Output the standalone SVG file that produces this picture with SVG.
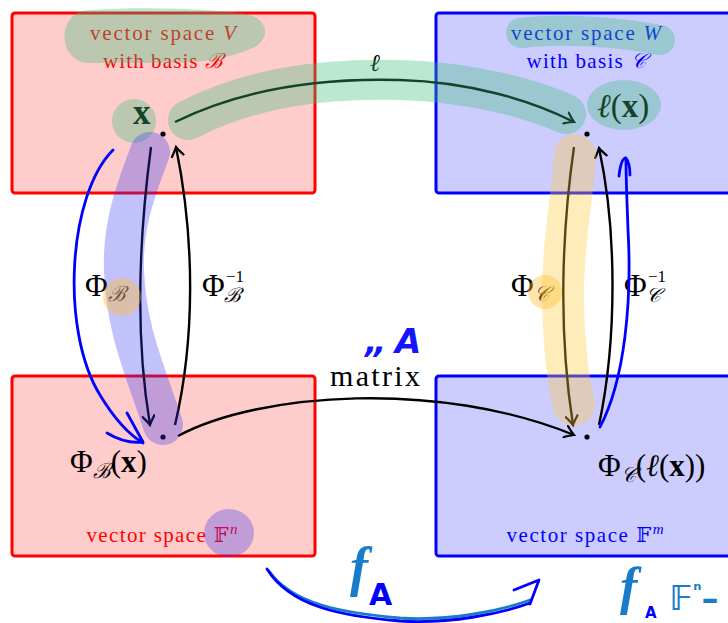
<svg xmlns="http://www.w3.org/2000/svg" width="728" height="623" viewBox="0 0 728 623">
<defs>
<style>
.rbox{fill:#ffcccc;stroke:#ff0000;stroke-width:3}
.bbox{fill:#ccccff;stroke:#0000ff;stroke-width:3}
.sm{font-family:"Liberation Serif","DejaVu Serif",serif;font-size:21px}
.math{font-family:"Liberation Serif","DejaVu Serif",serif;font-size:31px;fill:#000}
.red{fill:#ff0000}
.blue{fill:#0000ff}
.arr{fill:none;stroke:#000;stroke-width:2.4;marker-end:url(#ah)}
.hg{fill:none;stroke:rgb(60,190,120);stroke-opacity:0.35;stroke-linecap:round}
.hgf{fill:rgb(60,190,120);fill-opacity:0.35}
.hb{fill:none;stroke:rgb(50,50,245);stroke-opacity:0.3;stroke-linecap:round}
.hbf{fill:rgb(50,50,245);fill-opacity:0.3}
.hy{fill:none;stroke:rgb(255,200,60);stroke-opacity:0.35;stroke-linecap:round}
.hof{fill:rgb(255,190,50);fill-opacity:0.4}
.pen{fill:none;stroke-width:2.8;stroke-linecap:round;stroke-linejoin:round}
.hand{font-family:"DejaVu Sans",sans-serif;font-weight:bold}
.handf{font-family:"Liberation Serif",serif;font-style:italic;font-weight:bold;fill:#1a7cc8}
</style>
<marker id="ah" viewBox="-10 -7 12 14" refX="0" refY="0" markerWidth="12" markerHeight="14" orient="auto" markerUnits="userSpaceOnUse">
<path d="M-9,-6 Q-3,-1.5 0,0 Q-3,1.5 -9,6" fill="none" stroke="#000" stroke-width="2.2" stroke-linecap="round"/>
</marker>
</defs>

<g id="space-V">
<rect class="rbox" x="12" y="13" width="303" height="180" rx="3"/>
<text class="sm red" x="163" y="40" text-anchor="middle" textLength="146">vector space <tspan font-style="italic">V</tspan></text>
<text class="sm red" x="163" y="68" text-anchor="middle" textLength="120">with basis <tspan font-style="italic">ℬ</tspan></text>
</g>

<g id="space-W">
<rect class="bbox" x="436" y="13" width="300" height="180" rx="3"/>
<text class="sm blue" x="586" y="40" text-anchor="middle" textLength="150">vector space <tspan font-style="italic">W</tspan></text>
<text class="sm blue" x="586" y="68" text-anchor="middle" textLength="119">with basis <tspan font-style="italic">𝒞</tspan></text>
</g>

<g id="space-Fn">
<rect class="rbox" x="12" y="376" width="303" height="180" rx="3"/>
<text class="sm red" x="162" y="542" text-anchor="middle" textLength="151">vector space 𝔽<tspan font-style="italic" font-size="15" dy="-8">n</tspan></text>
</g>

<g id="space-Fm">
<rect class="bbox" x="436" y="376" width="300" height="180" rx="3"/>
<text class="sm blue" x="585" y="542" text-anchor="middle" textLength="157">vector space 𝔽<tspan font-style="italic" font-size="15" dy="-8">m</tspan></text>
</g>

<g id="node-x">
<text class="math" x="133" y="124" font-weight="bold" style="font-size:35px">x</text>
<circle cx="163" cy="134" r="2.6" fill="#000"/>
</g>

<g id="node-lx">
<text class="math" x="597" y="117" style="font-size:33px"><tspan font-style="italic">ℓ</tspan>(<tspan font-weight="bold">x</tspan>)</text>
<circle cx="587" cy="134" r="2.6" fill="#000"/>
</g>

<g id="node-phiBx">
<text class="math" x="70" y="472">Φ<tspan font-style="italic" font-size="21" dy="6">ℬ</tspan><tspan dy="-6">(</tspan><tspan font-weight="bold">x</tspan>)</text>
<circle cx="163" cy="437" r="2.6" fill="#000"/>
</g>

<g id="node-phiClx">
<text class="math" x="598" y="476">Φ<tspan font-style="italic" font-size="21" dy="6">𝒞</tspan><tspan dy="-6">(</tspan><tspan font-style="italic">ℓ</tspan>(<tspan font-weight="bold">x</tspan>))</text>
<circle cx="587" cy="437" r="2.6" fill="#000"/>
</g>

<g id="connectors">
<path class="arr" d="M175,122 C250,85 330,78 400,80 C470,82 530,100 574,122"/>
<path class="arr" d="M151,147 C140,230 134,330 150,425"/>
<path class="arr" d="M175,425 C195,340 195,240 176,147"/>
<path class="arr" d="M574,147 C562,230 558,330 573,425"/>
<path class="arr" d="M599,425 C617,340 617,230 599,148"/>
<path class="arr" d="M178,436 C260,392 440,380 574,435"/>
<text class="math" x="375" y="71" text-anchor="middle" font-style="italic" style="font-size:24px">ℓ</text>
<text class="math" x="85" y="296">Φ<tspan font-style="italic" font-size="21" dy="5">ℬ</tspan></text>
<text class="math" x="202" y="296">Φ<tspan font-style="italic" font-size="20" dy="6" dx="-1">ℬ</tspan></text>
<text class="math" x="226" y="282" style="font-size:17px">−1</text>
<text class="math" x="511" y="296">Φ<tspan font-style="italic" font-size="21" dy="5">𝒞</tspan></text>
<text class="math" x="624" y="296">Φ<tspan font-style="italic" font-size="20" dy="6" dx="-1">𝒞</tspan></text>
<text class="math" x="648" y="282" style="font-size:17px">−1</text>
<text class="math" x="330" y="386" style="font-size:30px" textLength="90">matrix</text>
</g>

<g id="highlights">
<path class="hgf" d="M90,10 C150,6 230,10 250,15 C270,21 270,42 250,49 C230,58 200,63 170,63 L90,63 C56,63 56,10 90,10 Z"/>
<circle class="hgf" cx="134" cy="121" r="22"/>
<path class="hg" stroke-width="40" d="M188,120 C250,88 320,78 400,80 C470,82 530,98 566,114"/>
<ellipse class="hgf" cx="624" cy="105" rx="37" ry="25"/>
<path class="hg" stroke-width="30" d="M521,33 C560,28 620,32 660,40"/>
<path class="hb" stroke-width="40" d="M150,152 C140,180 122,220 124,270 C126,330 145,370 163,425"/>
<ellipse class="hbf" cx="229" cy="533" rx="25" ry="24"/>
<path class="hy" stroke-width="42" d="M575,155 C572,200 562,250 563,300 C564,350 568,380 574,405"/>
<circle class="hof" cx="122" cy="297" r="19"/>
<circle class="hof" cx="545" cy="292" r="17"/>
</g>

<g id="handwriting">
<path class="pen" stroke="#0000ff" d="M113,150 C68,195 60,330 100,395 C115,420 130,435 143,443 M127,413 L143,442 M107,433 Q125,444 143,442"/>
<path class="pen" stroke="#0000ff" d="M600,427 C625,380 632,300 628,230 C627,200 626,180 626,160 M619,176 Q621,158 626,158 Q630,163 630,175"/>
<path class="pen" stroke="#1a7cc8" d="M269,571 C292,604 342,613 400,618 C450,621 500,611 530,600"/>
<path class="pen" stroke="#0000ff" d="M267,569 C290,606 340,616 400,621 C450,624 500,614 530,603 M514,590 L539,580 L530,604"/>
<text class="hand" x="365" y="353" font-size="34" font-style="italic" fill="#1414ff">„<tspan dx="8">A</tspan></text>
<text class="handf" x="350" y="585" font-size="54">f</text>
<text class="hand" x="369" y="605" font-size="30" fill="#0000ff">A</text>
<text class="handf" x="620" y="604" font-size="52">f</text>
<text class="hand" x="645" y="618" font-size="15" fill="#0000ff">A</text>
<text class="hand" x="670" y="610" font-size="34" fill="#1a7cc8">𝔽<tspan font-size="18" dy="-14">ⁿ</tspan><tspan dy="14">–</tspan></text>
</g>
</svg>
